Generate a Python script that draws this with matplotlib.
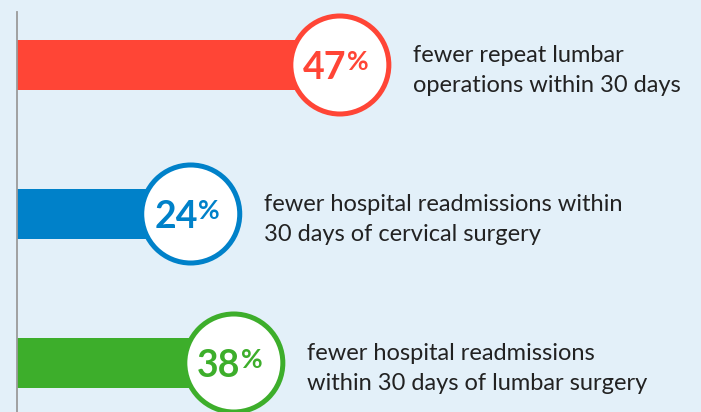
import matplotlib
matplotlib.use("Agg")
import matplotlib.pyplot as plt

# Data
percent_values = ["47", "24", "38"]
bar_lengths = [47.2, 25.4, 31.7]   # bar extents as drawn (axis units)
descriptions = [
    "fewer repeat lumbar\noperations within 30 days",
    "fewer hospital readmissions within\n30 days of cervical surgery",
    "fewer hospital readmissions\nwithin 30 days of lumbar surgery",
]
colors = ["#FF4536", "#0081C9", "#3DAE2B"]
rows = [0, 1, 2]

bg = "#E3F0F9"
fig = plt.figure(figsize=(7.01, 4.12), dpi=100, facecolor=bg)
ax = fig.add_axes([0, 0, 1, 1])
ax.set_facecolor(bg)
ax.set_xlim(-17 / 6.84, (701 - 17) / 6.84)
ax.set_ylim((412 - 65) / 149, -65 / 149)
ax.axis("off")

ax.axvline(0, ymin=0, ymax=1 - 12 / 412, color="#9A9A9A", lw=1.3, zorder=3)

ax.barh(rows, bar_lengths, height=0.342, left=0, color=colors, zorder=1)
ax.scatter(bar_lengths, rows, s=4980, facecolor="white", edgecolors=colors,
           linewidths=3.6, zorder=4)

font = "Lato"
for y, x, val, desc, c in zip(rows, bar_lengths, percent_values, descriptions, colors):
    ax.annotate(val, (x, y), xytext=(5, -10), textcoords="offset points",
                ha="right", va="baseline", fontsize=27, fontweight="bold",
                color=c, family=font, zorder=5)
    ax.annotate("%", (x, y), xytext=(5, -3.6), textcoords="offset points",
                ha="left", va="baseline", fontsize=19, fontweight="bold",
                color=c, family=font, zorder=5)
    for i, line in enumerate(desc.split("\n")):
        ax.annotate(line, (x, y), xytext=(53, 2.2 - 21.6 * i),
                    textcoords="offset points", ha="left", va="baseline",
                    fontsize=17, color="#222222", family=font, zorder=5)

fig.savefig("out.png", dpi=100, facecolor=bg)
